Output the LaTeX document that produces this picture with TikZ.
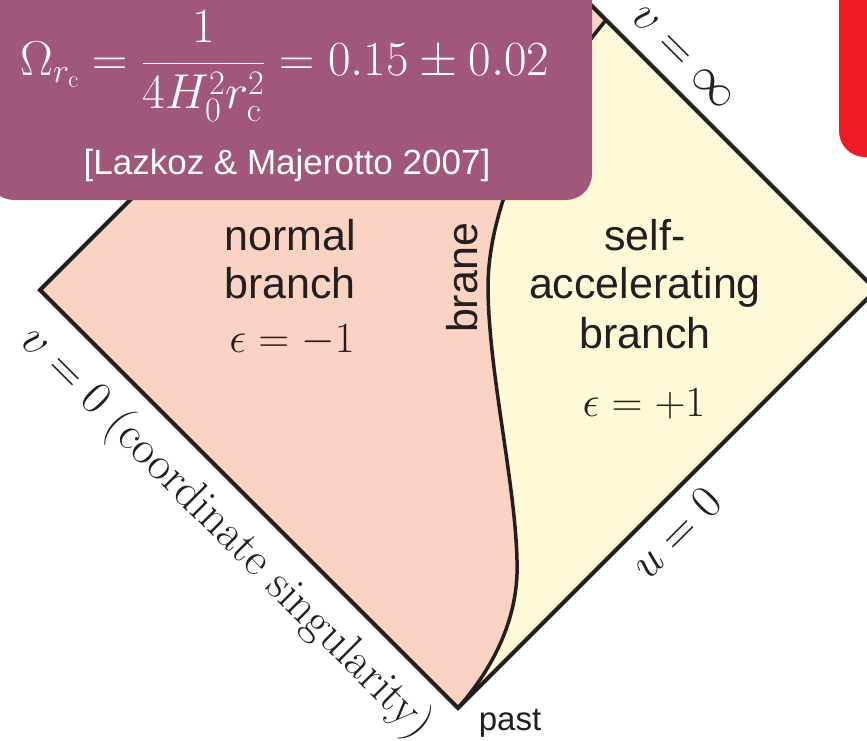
\RequirePackage{fix-cm}
\documentclass[tikz,border=0pt]{standalone}
\usepackage{fontspec}
\setsansfont{Liberation Sans}
\definecolor{ink}{HTML}{231F20}
\definecolor{pinkfill}{HTML}{FBD3C2}
\definecolor{yellowfill}{HTML}{FFF9D7}
\definecolor{boxcol}{HTML}{A0577A}
\definecolor{redcol}{HTML}{ED1C24}
\begin{document}
\begin{tikzpicture}[x=1pt,y=-1pt,
  sflab/.style={font=\sffamily\fontsize{43}{48}\selectfont, text=ink, inner sep=0pt, anchor=base},
  mathlab/.style={font=\fontsize{43}{48}\selectfont, text=ink, inner sep=0pt, anchor=base},
  edgelab/.style={font=\fontsize{47}{52}\selectfont, text=ink, inner sep=0pt},
  edgeline/.style={draw=ink, line width=4pt, line join=miter},
  braneline/.style={draw=ink, line width=3.5pt, line cap=round}]
\useasboundingbox (0,0) rectangle (867,741);
\clip (0,0) rectangle (867,741);
\coordinate (L) at (40,290);
\coordinate (B) at (458,708);
\coordinate (R) at (876,290);
\coordinate (T) at (458,-128);
\coordinate (P) at (606,20);
% regions
\fill[yellowfill] (L) -- (B) -- (R) -- (T) -- cycle;
\fill[pinkfill] (B) .. controls (500,660) and (519,610) .. (517,560)
  .. controls (515,480) and (488,370) .. (488,285)
  .. controls (489,200) and (540,100) .. (P) -- (T) -- (L) -- cycle;
% brane
\draw[braneline] (B) .. controls (500,660) and (519,610) .. (517,560)
  .. controls (515,480) and (488,370) .. (488,285)
  .. controls (489,200) and (540,100) .. (P);
% diamond
\draw[edgeline] (L) -- (B) -- (R) -- (T) -- cycle;
% labels inside
\node[sflab] (n1) at (290,250) {normal};
\node[sflab] (n2) at (290,298) {branch};
\node[mathlab] (n3) at (292,352) {$\epsilon = -1$};
\node[sflab] (s1) at (645,250) {self-};
\node[sflab] (s2) at (645,298) {accelerating};
\node[sflab] (s3) at (645,348) {branch};
\node[mathlab] (s4) at (644,416) {$\epsilon = +1$};
\node[font=\sffamily\fontsize{43}{48}\selectfont, text=ink, inner sep=0pt, rotate=90] (brane) at (462,278) {brane};
\node[font=\sffamily\fontsize{33}{38}\selectfont, text=ink, inner sep=0pt, anchor=base] (past) at (510,730) {past};
% edge labels
\node[edgelab, rotate=-45] (vinf) at (683,58) {$v = \infty$};
\node[edgelab, rotate=45] (u0) at (676,533) {$u = 0$};
\node[edgelab, rotate=-45] (v0) at (226,533) {$v = 0$ (coordinate singularity)};
% overlays
\fill[boxcol, rounded corners=26pt] (-12,-100) rectangle (592,200);
\fill[redcol, rounded corners=26pt] (839,-100) rectangle (920,157);
\node[font=\fontsize{49}{56}\selectfont, text=white, inner sep=0pt] (formula) at (285,66)
  {$\displaystyle \Omega_{r_\mathrm{c}} = \frac{1}{4H_0^2 r_\mathrm{c}^2} = 0.15 \pm 0.02$};
\node[font=\sffamily\fontsize{35}{40}\selectfont, text=white, inner sep=0pt] (ref) at (287,165)
  {[Lazkoz \& Majerotto 2007]};
\end{tikzpicture}
\end{document}
